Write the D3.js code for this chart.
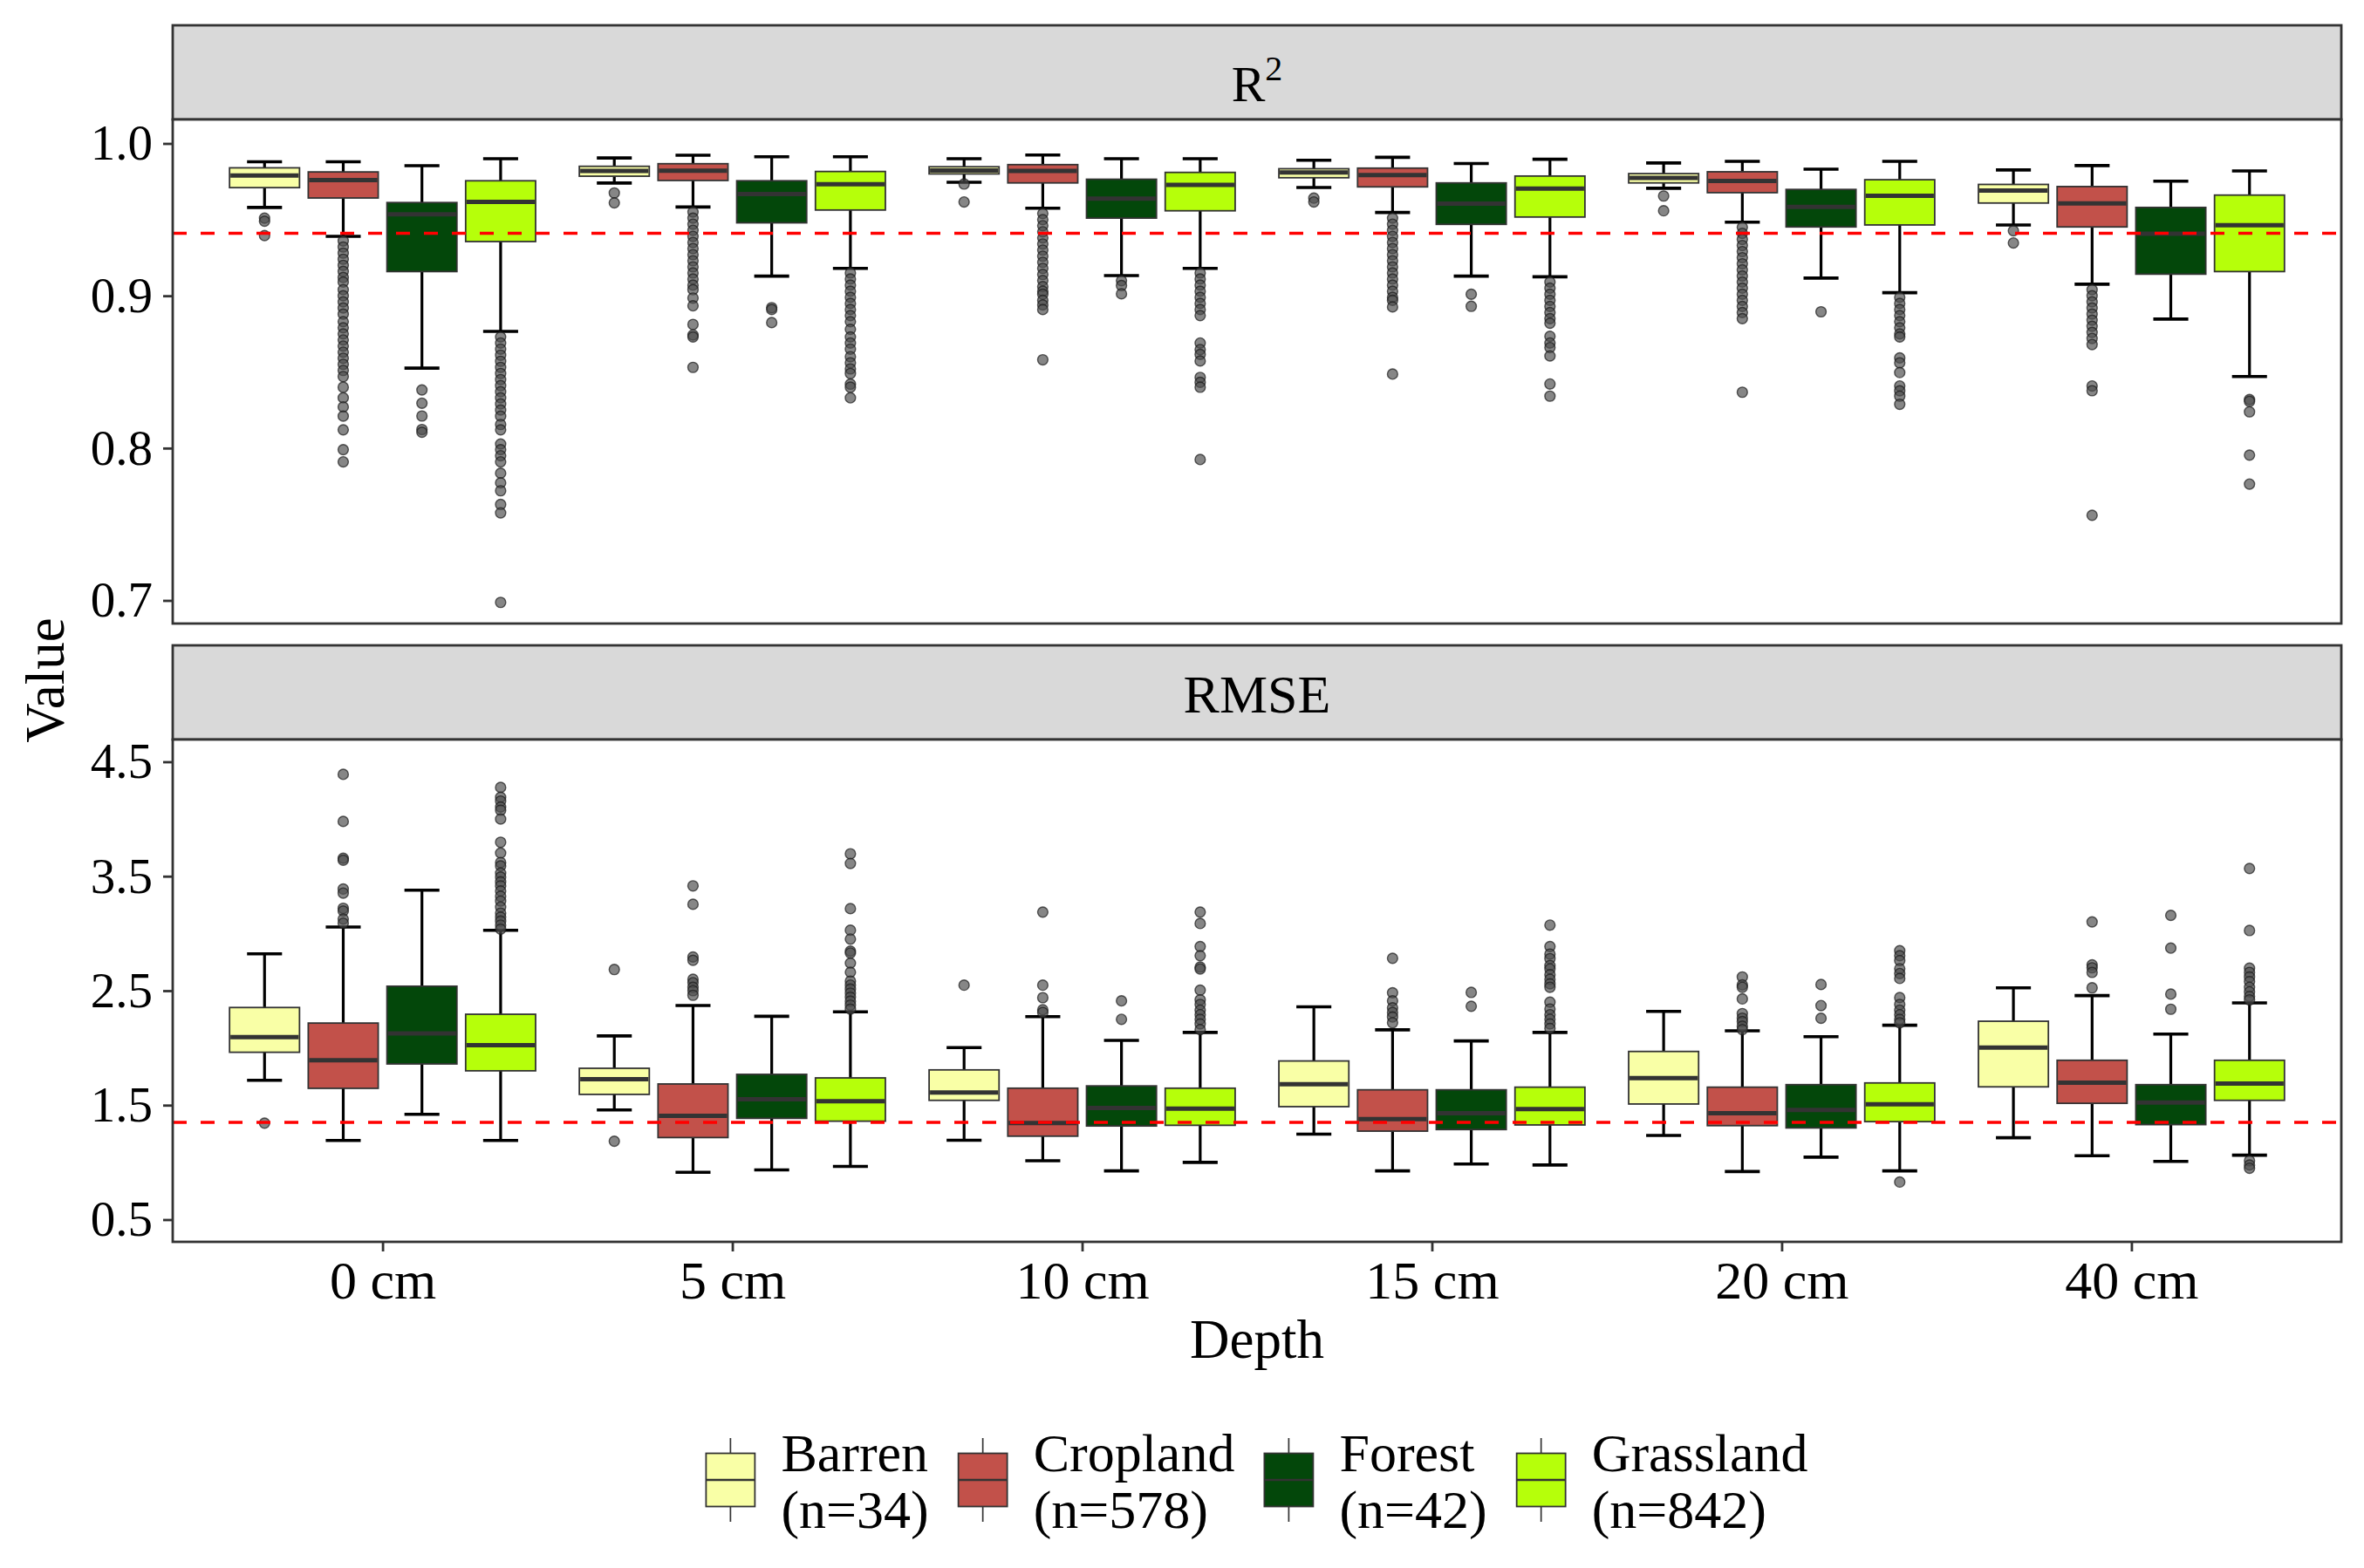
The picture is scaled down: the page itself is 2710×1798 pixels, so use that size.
<!DOCTYPE html>
<html><head><meta charset="utf-8">
<script src="https://cdn.jsdelivr.net/npm/d3@7"></script>
<style>
body{margin:0;background:#fff}
svg{display:block}
text{font-family:"Liberation Serif","Times New Roman",serif;fill:#000}
</style>
</head><body>
<svg id="c" width="2710" height="1798"></svg>
<script>
// ---------------- DATA ----------------
const depths = ["0 cm","5 cm","10 cm","15 cm","20 cm","40 cm"];
const classes = ["Barren","Cropland","Forest","Grassland"];
const classCounts = ["(n=34)","(n=578)","(n=42)","(n=842)"];
const classColors = ["#F9FFA6","#C2514A","#03470A","#B6FF0A"];
const r2Ticks = [0.7,0.8,0.9,1.0];
const rmseTicks = [0.5,1.5,2.5,3.5,4.5];
const r2Reference = 0.941;
const rmseReference = 1.35;

// [lower whisker, Q1, median, Q3, upper whisker] per depth
const r2Barren    = [[0.958,0.971,0.979,0.984,0.988],[0.974,0.9785,0.982,0.985,0.9905],[0.9745,0.980,0.9823,0.9847,0.990],[0.9711,0.9775,0.981,0.9834,0.989],[0.9706,0.9741,0.9774,0.9802,0.9872],[0.9465,0.9609,0.9691,0.9731,0.9826]];
const r2Cropland  = [[0.939,0.9642,0.976,0.9813,0.988],[0.9583,0.9757,0.9821,0.9867,0.9923],[0.9575,0.9741,0.982,0.9861,0.9924],[0.9547,0.9715,0.9793,0.9838,0.9909],[0.9483,0.9677,0.9754,0.9814,0.9883],[0.9076,0.9452,0.9607,0.9717,0.9855]];
const r2Forest    = [[0.8525,0.9159,0.9535,0.9612,0.9854],[0.9129,0.9479,0.9668,0.9755,0.9913],[0.9133,0.951,0.9638,0.9765,0.990],[0.9129,0.9469,0.9605,0.9741,0.9868],[0.9116,0.9452,0.9584,0.9698,0.9831],[0.8847,0.9142,0.9407,0.958,0.9752]];
const r2Grassland = [[0.8766,0.9356,0.9617,0.9755,0.990],[0.918,0.9563,0.9732,0.9816,0.9913],[0.918,0.9558,0.9728,0.981,0.990],[0.9125,0.9517,0.9704,0.9786,0.9896],[0.902,0.9465,0.9657,0.9762,0.9883],[0.847,0.9159,0.9463,0.9661,0.982]];

const r2BarrenOut = [[0.951,0.949,0.9395],[0.9675,0.961],[0.9734,0.9616],[0.9641,0.9616],[0.9655,0.9558],[0.9427,0.9347]];
const r2CroplandOut = [
  [0.936,0.932,0.928,0.924,0.920,0.916,0.912,0.909,0.904,0.900,0.896,0.892,0.888,0.883,0.879,0.875,0.871,0.867,0.863,0.859,0.855,0.851,0.847,0.840,0.833,0.827,0.821,0.812,0.799,0.791],
  [0.955,0.951,0.947,0.943,0.939,0.935,0.931,0.927,0.923,0.919,0.915,0.911,0.907,0.904,0.8985,0.8934,0.8812,0.8743,0.873,0.853],
  [0.954,0.950,0.946,0.942,0.938,0.934,0.930,0.926,0.922,0.918,0.914,0.910,0.906,0.903,0.901,0.897,0.894,0.891,0.858],
  [0.951,0.947,0.943,0.939,0.935,0.931,0.927,0.923,0.919,0.915,0.911,0.907,0.903,0.899,0.897,0.8927,0.8486],
  [0.945,0.941,0.937,0.933,0.929,0.925,0.921,0.917,0.913,0.909,0.905,0.901,0.897,0.893,0.889,0.885,0.8367],
  [0.904,0.900,0.896,0.892,0.888,0.884,0.880,0.876,0.872,0.868,0.8408,0.8377,0.7559]];
const r2ForestOut = [[0.8382,0.8295,0.8211,0.8122,0.8104],[0.8922,0.891,0.8824],[0.9099,0.9067,0.9013],[0.901,0.8931],[0.8895],[]];
const r2GrasslandOut = [
  [0.873,0.869,0.865,0.861,0.857,0.853,0.849,0.845,0.841,0.837,0.833,0.829,0.825,0.821,0.8155,0.812,0.8027,0.799,0.795,0.791,0.7835,0.7772,0.772,0.763,0.7575,0.6987],
  [0.915,0.911,0.907,0.903,0.899,0.895,0.891,0.887,0.883,0.878,0.873,0.869,0.865,0.860,0.856,0.852,0.849,0.842,0.840,0.833],
  [0.915,0.911,0.907,0.903,0.899,0.895,0.891,0.887,0.869,0.8647,0.8615,0.8572,0.8464,0.8432,0.840,0.7925],
  [0.909,0.905,0.901,0.897,0.893,0.889,0.885,0.882,0.8734,0.869,0.866,0.8605,0.8421,0.8341],
  [0.899,0.895,0.891,0.887,0.883,0.879,0.875,0.873,0.8592,0.856,0.8496,0.8408,0.8376,0.8341,0.8288],
  [0.8319,0.8307,0.8238,0.7954,0.7764]];

const rmseBarren    = [[1.717,1.962,2.094,2.353,2.822],[1.458,1.594,1.727,1.822,2.105],[1.193,1.542,1.611,1.808,2.003],[1.247,1.487,1.682,1.886,2.359],[1.235,1.51,1.737,1.969,2.319],[1.215,1.66,2.003,2.233,2.525]];
const rmseCropland  = [[1.192,1.647,1.892,2.217,3.056],[0.913,1.217,1.406,1.685,2.371],[1.014,1.229,1.344,1.648,2.273],[0.926,1.273,1.378,1.634,2.158],[0.92,1.321,1.43,1.657,2.15],[1.058,1.516,1.697,1.892,2.457]];
const rmseForest    = [[1.42,1.86,2.126,2.539,3.378],[0.934,1.385,1.552,1.769,2.276],[0.926,1.318,1.476,1.668,2.066],[0.986,1.287,1.43,1.634,2.061],[1.046,1.301,1.459,1.679,2.098],[1.009,1.33,1.522,1.679,2.121]];
const rmseGrassland = [[1.192,1.80,2.024,2.294,3.028],[0.965,1.36,1.535,1.738,2.315],[1.0,1.324,1.47,1.648,2.135],[0.977,1.327,1.465,1.657,2.135],[0.926,1.356,1.507,1.694,2.198],[1.063,1.542,1.688,1.892,2.393]];

const rmseBarrenOut = [[1.343],[2.685,1.185],[2.548],[],[],[]];
const rmseCroplandOut = [
  [4.39,3.979,3.657,3.64,3.388,3.353,3.22,3.196,3.126,3.09],
  [3.416,3.255,2.794,2.766,2.6,2.57,2.53,2.5,2.46],
  [3.187,2.548,2.439,2.333,2.31],
  [2.783,2.482,2.411,2.35,2.31,2.27,2.22],
  [2.62,2.55,2.53,2.428,2.30,2.26,2.23,2.19,2.16],
  [3.101,2.726,2.70,2.66,2.525]];
const rmseForestOut = [[],[],[2.411,2.25],[2.485,2.364],[2.554,2.37,2.259],[3.158,2.872,2.47,2.338]];
const rmseGrasslandOut = [
  [4.276,4.19,4.157,4.105,4.077,4.0,3.797,3.703,3.62,3.59,3.528,3.493,3.451,3.416,3.371,3.325,3.283,3.231,3.178,3.143,3.108,3.073,3.038],
  [3.696,3.612,3.217,3.028,2.951,2.846,2.829,2.741,2.661,2.584,2.549,2.514,2.479,2.444,2.409,2.374,2.339],
  [3.187,3.087,2.886,2.806,2.706,2.69,2.505,2.42,2.38,2.33,2.29,2.25,2.21,2.16],
  [3.073,2.886,2.82,2.78,2.72,2.69,2.64,2.60,2.56,2.53,2.4,2.34,2.29,2.25,2.21,2.17],
  [2.849,2.806,2.763,2.692,2.65,2.607,2.44,2.38,2.33,2.29,2.25,2.22,0.828],
  [3.568,3.026,2.697,2.66,2.62,2.58,2.53,2.49,2.45,2.42,1.014,0.977,0.949]];

// ---------------- LAYOUT ----------------
const svg = d3.select("#c");
svg.append("rect").attr("width",2710).attr("height",1798).attr("fill","#fff");
const L = 198, R = 2684;
const x = d3.scalePoint().domain(depths).range([L,R]).padding(0.6);
const step = x.step();
const dodge = 0.225*step, boxW = 0.2*step, capW = 0.1*step;
const dark = "#333333";

const panels = [
  {name:"R2", strip:[29,137], body:[137,715], stripBase:116,
   y:d3.scaleLinear().domain([0.7,1.0]).range([688.5,164.5]),
   ticks:r2Ticks, fmt:d3.format(".1f"),
   stats:[r2Barren,r2Cropland,r2Forest,r2Grassland],
   outs:[r2BarrenOut,r2CroplandOut,r2ForestOut,r2GrasslandOut],
   ref:r2Reference, xaxis:false},
  {name:"RMSE", strip:[740,848], body:[848,1424], stripBase:817,
   y:d3.scaleLinear().domain([0.5,4.5]).range([1398.5,873.5]),
   ticks:rmseTicks, fmt:d3.format(".1f"),
   stats:[rmseBarren,rmseCropland,rmseForest,rmseGrassland],
   outs:[rmseBarrenOut,rmseCroplandOut,rmseForestOut,rmseGrasslandOut],
   ref:rmseReference, xaxis:true}
];

panels.forEach((p,pi)=>{
  const g = svg.append("g");
  // strip
  g.append("rect").attr("x",L).attr("y",p.strip[0]).attr("width",R-L).attr("height",p.strip[1]-p.strip[0])
    .attr("fill","#D9D9D9").attr("stroke",dark).attr("stroke-width",2.8);
  const st = g.append("text").attr("x",(L+R)/2).attr("y",p.stripBase)
    .attr("text-anchor","middle");
  if(p.name==="R2"){
    st.attr("font-size",58);
    st.append("tspan").text("R");
    st.append("tspan").attr("dy",-24).attr("font-size",40).text("2");
  } else st.attr("font-size",62).text(p.name);

  // panel body
  const clipId = "clip"+pi;
  svg.append("clipPath").attr("id",clipId).append("rect")
    .attr("x",L).attr("y",p.body[0]).attr("width",R-L).attr("height",p.body[1]-p.body[0]);
  g.append("rect").attr("x",L).attr("y",p.body[0]).attr("width",R-L).attr("height",p.body[1]-p.body[0]).attr("fill","#fff");
  const body = g.append("g").attr("clip-path",`url(#${clipId})`);
  const y = p.y;

  // errorbars
  classes.forEach((c,ci)=>{
    depths.forEach((d,di)=>{
      const s = p.stats[ci][di];
      const cx = x(d) + (ci-1.5)*dodge;
      body.append("line").attr("x1",cx).attr("x2",cx).attr("y1",y(s[0])).attr("y2",y(s[4]))
        .attr("stroke","#000").attr("stroke-width",3.2);
      [s[0],s[4]].forEach(v=>{
        body.append("line").attr("x1",cx-capW/2).attr("x2",cx+capW/2).attr("y1",y(v)).attr("y2",y(v))
          .attr("stroke","#000").attr("stroke-width",3.6);
      });
    });
  });
  // boxes + outliers
  classes.forEach((c,ci)=>{
    depths.forEach((d,di)=>{
      const s = p.stats[ci][di];
      const cx = x(d) + (ci-1.5)*dodge;
      body.append("rect").attr("x",cx-boxW/2).attr("width",boxW)
        .attr("y",y(s[3])).attr("height",y(s[1])-y(s[3]))
        .attr("fill",classColors[ci]).attr("stroke",dark).attr("stroke-width",1.8);
      body.append("line").attr("x1",cx-boxW/2+1).attr("x2",cx+boxW/2-1).attr("y1",y(s[2])).attr("y2",y(s[2]))
        .attr("stroke",dark).attr("stroke-width",5);
      body.selectAll(null).data(p.outs[ci][di]).enter().append("circle")
        .attr("cx",cx).attr("cy",v=>y(v)).attr("r",5.9)
        .attr("fill","#4d4d4d").attr("fill-opacity",0.68)
        .attr("stroke","#1a1a1a").attr("stroke-opacity",0.7).attr("stroke-width",1.4);
    });
  });
  // reference line
  body.append("line").attr("x1",L).attr("x2",R).attr("y1",y(p.ref)).attr("y2",y(p.ref))
    .attr("stroke","#FF0000").attr("stroke-width",3.4).attr("stroke-dasharray","16,16");
  // border
  g.append("rect").attr("x",L).attr("y",p.body[0]).attr("width",R-L).attr("height",p.body[1]-p.body[0])
    .attr("fill","none").attr("stroke",dark).attr("stroke-width",2.8);

  // y axis
  const ya = g.append("g").attr("transform",`translate(${L},0)`)
    .call(d3.axisLeft(y).tickValues(p.ticks).tickFormat(p.fmt).tickSize(11).tickPadding(12));
  ya.select(".domain").remove();
  ya.selectAll(".tick line").attr("stroke",dark).attr("stroke-width",2.8);
  ya.selectAll(".tick text").attr("font-size",57).attr("fill","#000")
    .style("font-family",'"Liberation Serif","Times New Roman",serif');

  if(p.xaxis){
    const xa = g.append("g").attr("transform",`translate(0,${p.body[1]})`)
      .call(d3.axisBottom(x).tickSize(11).tickPadding(10));
    xa.select(".domain").remove();
    xa.selectAll(".tick line").attr("stroke",dark).attr("stroke-width",2.8);
    xa.selectAll(".tick text").attr("font-size",62).attr("fill","#000")
      .style("font-family",'"Liberation Serif","Times New Roman",serif');
  }
});

// axis titles
svg.append("text").attr("x",(L+R)/2).attr("y",1557).attr("text-anchor","middle").attr("font-size",63).text("Depth");
svg.append("text").attr("transform","translate(73,780) rotate(-90)").attr("text-anchor","middle").attr("font-size",63).text("Value");

// legend
const lg = svg.append("g");
const keyW = 56, keyH = 61, keyTop = 1666.5, keyMid = 1697;
const items = classes.map((c,i)=>{
  const it = lg.append("g");
  it.append("line").attr("x1",keyW/2).attr("x2",keyW/2).attr("y1",1649).attr("y2",1745)
    .attr("stroke",dark).attr("stroke-width",1.7);
  it.append("rect").attr("x",0).attr("y",keyTop).attr("width",keyW).attr("height",keyH)
    .attr("fill",classColors[i]).attr("stroke",dark).attr("stroke-width",1.8);
  it.append("line").attr("x1",0).attr("x2",keyW).attr("y1",keyMid).attr("y2",keyMid)
    .attr("stroke",dark).attr("stroke-width",2.6);
  const t1 = it.append("text").attr("x",keyW+30).attr("y",1686.6).attr("font-size",62).text(c);
  const t2 = it.append("text").attr("x",keyW+30).attr("y",1751.7).attr("font-size",62).text(classCounts[i]);
  const tw = Math.max(t1.node().getComputedTextLength(), t2.node().getComputedTextLength());
  return {it, w: keyW+30+tw};
});
const gapItems = 34;
const total = d3.sum(items,d=>d.w) + gapItems*(items.length-1);
let cur = (L+R)/2 - total/2;
items.forEach(d=>{ d.it.attr("transform",`translate(${cur},0)`); cur += d.w + gapItems; });
</script>
</body></html>
